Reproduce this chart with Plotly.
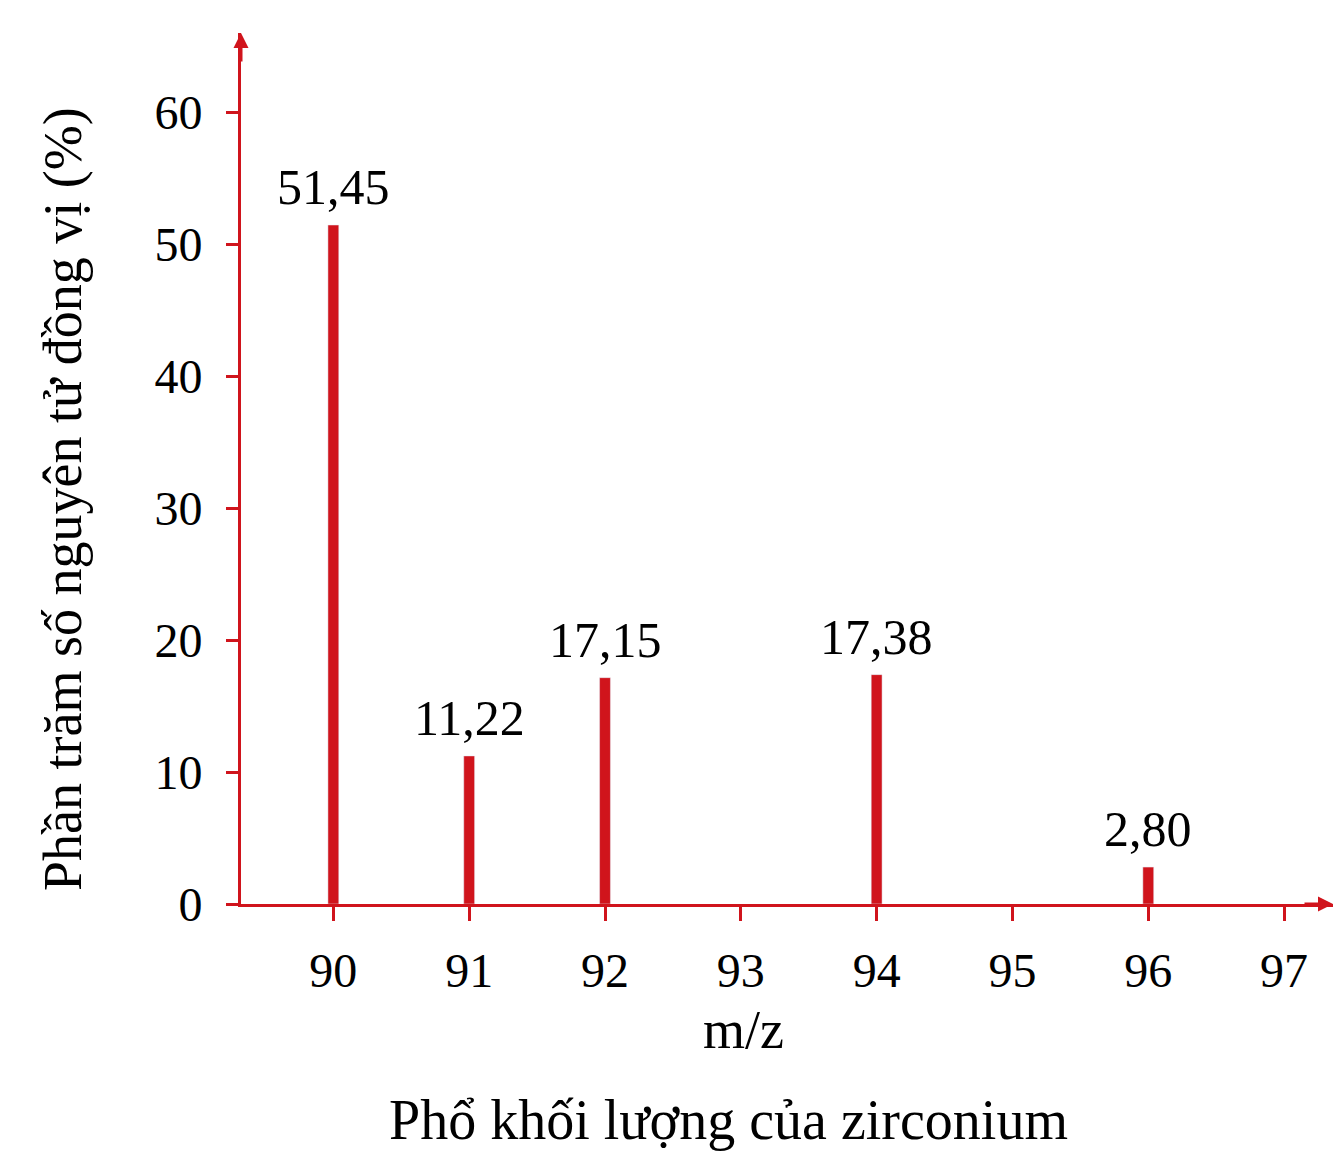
import plotly.graph_objects as go

mz = [90, 91, 92, 94, 96]
pct = [51.45, 11.22, 17.15, 17.38, 2.80]
labels = ["51,45", "11,22", "17,15", "17,38", "2,80"]
xticks = [90, 91, 92, 93, 94, 95, 96, 97]
yticks = [0, 10, 20, 30, 40, 50, 60]

red = "#d0141c"
font = "Liberation Serif"

fig = go.Figure(go.Bar(x=mz, y=pct, width=0.08, marker_color=red))

ann = [dict(x=x, y=y, text=t, showarrow=False, yanchor="bottom", yshift=8,
            font=dict(size=50, color="black")) for x, y, t in zip(mz, pct, labels)]
ann += [
    dict(xref="paper", yref="paper", x=1.0, y=0, ax=-30, ay=0, showarrow=True,
         arrowhead=2, arrowsize=1, arrowwidth=3, arrowcolor=red, text=""),
    dict(xref="paper", yref="paper", x=0, y=1.0, ax=0, ay=30, showarrow=True,
         arrowhead=2, arrowsize=1, arrowwidth=3, arrowcolor=red, text=""),
    dict(xref="paper", yref="paper", x=0.46, y=-0.145, text="m/z", showarrow=False,
         font=dict(size=54), yanchor="middle"),
    dict(xref="paper", yref="paper", x=0.446, y=-0.248, text="Phổ khối lượng của zirconium",
         showarrow=False, font=dict(size=56), yanchor="middle"),
    dict(xref="paper", yref="paper", x=-0.163, y=0.465, text="Phần trăm số nguyên tử đồng vị (%)",
         showarrow=False, textangle=-90, font=dict(size=54), xanchor="center", yanchor="middle"),
]

fig.update_layout(
    width=1344, height=1170, plot_bgcolor="white", paper_bgcolor="white",
    margin=dict(l=233, r=19, t=25, b=274, autoexpand=False), showlegend=False,
    font=dict(family=font, size=48, color="black"),
    xaxis=dict(range=[89.32, 97.36], tickvals=xticks, showline=True, linecolor=red,
               linewidth=3, ticks="outside", tickcolor=red, tickwidth=3, ticklen=14,
               showgrid=False, zeroline=False, ticklabelstandoff=8, automargin=False),
    yaxis=dict(range=[0, 66], tickvals=yticks, showline=True, linecolor=red,
               linewidth=3, ticks="outside", tickcolor=red, tickwidth=3, ticklen=12,
               showgrid=False, zeroline=False, ticklabelstandoff=14, automargin=False),
    annotations=ann,
)
fig.write_html("out.html")
